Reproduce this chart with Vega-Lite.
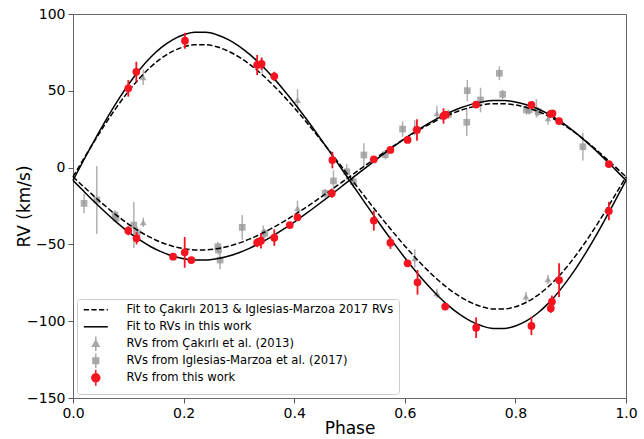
{
  "$schema": "https://vega.github.io/schema/vega-lite/v6.json",
  "width": 553,
  "height": 384,
  "autosize": "none",
  "padding": {"left": 73, "top": 14, "right": 18, "bottom": 41},
  "background": "white",
  "config": {
    "font": "DejaVu Sans",
    "view": {"stroke": "#666666", "strokeWidth": 1},
    "axis": {"grid": false, "domain": false, "labelFlush": false, "tickColor": "#555555", "tickSize": 5, "labelColor": "black", "titleColor": "black", "labelFontSize": 14, "titleFontSize": 17, "titleFontWeight": "normal", "labelFont": "DejaVu Sans", "titleFont": "DejaVu Sans"}
  },
  "datasets": {
    "solid": [
      {"p":0,"v":-8.3,"c":"S1"},{"p":0.02,"v":5.26,"c":"S1"},{"p":0.04,"v":18.52,"c":"S1"},{"p":0.06,"v":31.23,"c":"S1"},{"p":0.08,"v":43.12,"c":"S1"},{"p":0.1,"v":53.93,"c":"S1"},{"p":0.12,"v":63.49,"c":"S1"},{"p":0.14,"v":71.64,"c":"S1"},{"p":0.16,"v":78.22,"c":"S1"},{"p":0.18,"v":83.18,"c":"S1"},{"p":0.2,"v":86.47,"c":"S1"},{"p":0.22,"v":88.09,"c":"S1"},{"p":0.24,"v":88.08,"c":"S1"},{"p":0.26,"v":86.53,"c":"S1"},{"p":0.28,"v":83.51,"c":"S1"},{"p":0.3,"v":79.16,"c":"S1"},{"p":0.32,"v":73.58,"c":"S1"},{"p":0.34,"v":66.95,"c":"S1"},{"p":0.36,"v":59.39,"c":"S1"},{"p":0.38,"v":51.06,"c":"S1"},{"p":0.4,"v":42.09,"c":"S1"},{"p":0.42,"v":32.6,"c":"S1"},{"p":0.44,"v":22.7,"c":"S1"},{"p":0.46,"v":12.53,"c":"S1"},{"p":0.48,"v":2.15,"c":"S1"},{"p":0.5,"v":-8.3,"c":"S1"},{"p":0.52,"v":-18.75,"c":"S1"},{"p":0.54,"v":-29.13,"c":"S1"},{"p":0.56,"v":-39.3,"c":"S1"},{"p":0.58,"v":-49.2,"c":"S1"},{"p":0.6,"v":-58.69,"c":"S1"},{"p":0.62,"v":-67.66,"c":"S1"},{"p":0.64,"v":-75.99,"c":"S1"},{"p":0.66,"v":-83.55,"c":"S1"},{"p":0.68,"v":-90.18,"c":"S1"},{"p":0.7,"v":-95.76,"c":"S1"},{"p":0.72,"v":-100.11,"c":"S1"},{"p":0.74,"v":-103.13,"c":"S1"},{"p":0.76,"v":-104.68,"c":"S1"},{"p":0.78,"v":-104.69,"c":"S1"},{"p":0.8,"v":-103.07,"c":"S1"},{"p":0.82,"v":-99.78,"c":"S1"},{"p":0.84,"v":-94.82,"c":"S1"},{"p":0.86,"v":-88.24,"c":"S1"},{"p":0.88,"v":-80.09,"c":"S1"},{"p":0.9,"v":-70.53,"c":"S1"},{"p":0.92,"v":-59.72,"c":"S1"},{"p":0.94,"v":-47.83,"c":"S1"},{"p":0.96,"v":-35.12,"c":"S1"},{"p":0.98,"v":-21.86,"c":"S1"},{"p":1,"v":-8.3,"c":"S1"},
      {"p":0,"v":-8.3,"c":"S2"},{"p":0.02,"v":-15.6,"c":"S2"},{"p":0.04,"v":-22.75,"c":"S2"},{"p":0.06,"v":-29.59,"c":"S2"},{"p":0.08,"v":-35.99,"c":"S2"},{"p":0.1,"v":-41.82,"c":"S2"},{"p":0.12,"v":-46.97,"c":"S2"},{"p":0.14,"v":-51.36,"c":"S2"},{"p":0.16,"v":-54.9,"c":"S2"},{"p":0.18,"v":-57.57,"c":"S2"},{"p":0.2,"v":-59.35,"c":"S2"},{"p":0.22,"v":-60.22,"c":"S2"},{"p":0.24,"v":-60.21,"c":"S2"},{"p":0.26,"v":-59.38,"c":"S2"},{"p":0.28,"v":-57.75,"c":"S2"},{"p":0.3,"v":-55.41,"c":"S2"},{"p":0.32,"v":-52.4,"c":"S2"},{"p":0.34,"v":-48.83,"c":"S2"},{"p":0.36,"v":-44.76,"c":"S2"},{"p":0.38,"v":-40.27,"c":"S2"},{"p":0.4,"v":-35.44,"c":"S2"},{"p":0.42,"v":-30.33,"c":"S2"},{"p":0.44,"v":-25.0,"c":"S2"},{"p":0.46,"v":-19.52,"c":"S2"},{"p":0.48,"v":-13.93,"c":"S2"},{"p":0.5,"v":-8.3,"c":"S2"},{"p":0.52,"v":-2.67,"c":"S2"},{"p":0.54,"v":2.92,"c":"S2"},{"p":0.56,"v":8.4,"c":"S2"},{"p":0.58,"v":13.73,"c":"S2"},{"p":0.6,"v":18.84,"c":"S2"},{"p":0.62,"v":23.67,"c":"S2"},{"p":0.64,"v":28.16,"c":"S2"},{"p":0.66,"v":32.23,"c":"S2"},{"p":0.68,"v":35.8,"c":"S2"},{"p":0.7,"v":38.81,"c":"S2"},{"p":0.72,"v":41.15,"c":"S2"},{"p":0.74,"v":42.78,"c":"S2"},{"p":0.76,"v":43.61,"c":"S2"},{"p":0.78,"v":43.62,"c":"S2"},{"p":0.8,"v":42.75,"c":"S2"},{"p":0.82,"v":40.97,"c":"S2"},{"p":0.84,"v":38.3,"c":"S2"},{"p":0.86,"v":34.76,"c":"S2"},{"p":0.88,"v":30.37,"c":"S2"},{"p":0.9,"v":25.22,"c":"S2"},{"p":0.92,"v":19.39,"c":"S2"},{"p":0.94,"v":12.99,"c":"S2"},{"p":0.96,"v":6.15,"c":"S2"},{"p":0.98,"v":-1.0,"c":"S2"},{"p":1,"v":-8.3,"c":"S2"}
    ],
    "dashed": [
      {"p":0,"v":-6,"c":"D1"},{"p":0.02,"v":6.1,"c":"D1"},{"p":0.04,"v":17.94,"c":"D1"},{"p":0.06,"v":29.28,"c":"D1"},{"p":0.08,"v":39.89,"c":"D1"},{"p":0.1,"v":49.54,"c":"D1"},{"p":0.12,"v":58.07,"c":"D1"},{"p":0.14,"v":65.34,"c":"D1"},{"p":0.16,"v":71.22,"c":"D1"},{"p":0.18,"v":75.64,"c":"D1"},{"p":0.2,"v":78.59,"c":"D1"},{"p":0.22,"v":80.03,"c":"D1"},{"p":0.24,"v":80.02,"c":"D1"},{"p":0.26,"v":78.64,"c":"D1"},{"p":0.28,"v":75.94,"c":"D1"},{"p":0.3,"v":72.05,"c":"D1"},{"p":0.32,"v":67.08,"c":"D1"},{"p":0.34,"v":61.16,"c":"D1"},{"p":0.36,"v":54.41,"c":"D1"},{"p":0.38,"v":46.98,"c":"D1"},{"p":0.4,"v":38.97,"c":"D1"},{"p":0.42,"v":30.5,"c":"D1"},{"p":0.44,"v":21.67,"c":"D1"},{"p":0.46,"v":12.59,"c":"D1"},{"p":0.48,"v":3.33,"c":"D1"},{"p":0.5,"v":-6,"c":"D1"},{"p":0.52,"v":-15.33,"c":"D1"},{"p":0.54,"v":-24.59,"c":"D1"},{"p":0.56,"v":-33.67,"c":"D1"},{"p":0.58,"v":-42.5,"c":"D1"},{"p":0.6,"v":-50.97,"c":"D1"},{"p":0.62,"v":-58.98,"c":"D1"},{"p":0.64,"v":-66.41,"c":"D1"},{"p":0.66,"v":-73.16,"c":"D1"},{"p":0.68,"v":-79.08,"c":"D1"},{"p":0.7,"v":-84.05,"c":"D1"},{"p":0.72,"v":-87.94,"c":"D1"},{"p":0.74,"v":-90.64,"c":"D1"},{"p":0.76,"v":-92.02,"c":"D1"},{"p":0.78,"v":-92.03,"c":"D1"},{"p":0.8,"v":-90.59,"c":"D1"},{"p":0.82,"v":-87.64,"c":"D1"},{"p":0.84,"v":-83.22,"c":"D1"},{"p":0.86,"v":-77.34,"c":"D1"},{"p":0.88,"v":-70.07,"c":"D1"},{"p":0.9,"v":-61.54,"c":"D1"},{"p":0.92,"v":-51.89,"c":"D1"},{"p":0.94,"v":-41.28,"c":"D1"},{"p":0.96,"v":-29.94,"c":"D1"},{"p":0.98,"v":-18.1,"c":"D1"},{"p":1,"v":-6,"c":"D1"},
      {"p":0,"v":-6,"c":"D2"},{"p":0.02,"v":-12.69,"c":"D2"},{"p":0.04,"v":-19.24,"c":"D2"},{"p":0.06,"v":-25.52,"c":"D2"},{"p":0.08,"v":-31.39,"c":"D2"},{"p":0.1,"v":-36.73,"c":"D2"},{"p":0.12,"v":-41.45,"c":"D2"},{"p":0.14,"v":-45.47,"c":"D2"},{"p":0.16,"v":-48.72,"c":"D2"},{"p":0.18,"v":-51.17,"c":"D2"},{"p":0.2,"v":-52.79,"c":"D2"},{"p":0.22,"v":-53.59,"c":"D2"},{"p":0.24,"v":-53.59,"c":"D2"},{"p":0.26,"v":-52.82,"c":"D2"},{"p":0.28,"v":-51.33,"c":"D2"},{"p":0.3,"v":-49.18,"c":"D2"},{"p":0.32,"v":-46.43,"c":"D2"},{"p":0.34,"v":-43.15,"c":"D2"},{"p":0.36,"v":-39.42,"c":"D2"},{"p":0.38,"v":-35.31,"c":"D2"},{"p":0.4,"v":-30.88,"c":"D2"},{"p":0.42,"v":-26.19,"c":"D2"},{"p":0.44,"v":-21.31,"c":"D2"},{"p":0.46,"v":-16.28,"c":"D2"},{"p":0.48,"v":-11.16,"c":"D2"},{"p":0.5,"v":-6,"c":"D2"},{"p":0.52,"v":-0.84,"c":"D2"},{"p":0.54,"v":4.28,"c":"D2"},{"p":0.56,"v":9.31,"c":"D2"},{"p":0.58,"v":14.19,"c":"D2"},{"p":0.6,"v":18.88,"c":"D2"},{"p":0.62,"v":23.31,"c":"D2"},{"p":0.64,"v":27.42,"c":"D2"},{"p":0.66,"v":31.15,"c":"D2"},{"p":0.68,"v":34.43,"c":"D2"},{"p":0.7,"v":37.18,"c":"D2"},{"p":0.72,"v":39.33,"c":"D2"},{"p":0.74,"v":40.82,"c":"D2"},{"p":0.76,"v":41.59,"c":"D2"},{"p":0.78,"v":41.59,"c":"D2"},{"p":0.8,"v":40.79,"c":"D2"},{"p":0.82,"v":39.17,"c":"D2"},{"p":0.84,"v":36.72,"c":"D2"},{"p":0.86,"v":33.47,"c":"D2"},{"p":0.88,"v":29.45,"c":"D2"},{"p":0.9,"v":24.73,"c":"D2"},{"p":0.92,"v":19.39,"c":"D2"},{"p":0.94,"v":13.52,"c":"D2"},{"p":0.96,"v":7.24,"c":"D2"},{"p":0.98,"v":0.69,"c":"D2"},{"p":1,"v":-6,"c":"D2"}
    ],
    "cak": [
      {"p":0.127,"v":58.8,"lo":53.8,"hi":63.8},{"p":0.342,"v":66.5,"lo":61.5,"hi":71.5},{"p":0.406,"v":44.0,"lo":37.0,"hi":51.0},{"p":0.618,"v":26.0,"lo":21.0,"hi":31.0},{"p":0.658,"v":35.3,"lo":30.3,"hi":40.3},{"p":0.838,"v":38.6,"lo":32.6,"hi":44.6},{"p":0.859,"v":32.1,"lo":28.1,"hi":36.1},
      {"p":0.127,"v":-35.6,"lo":-38.6,"hi":-32.6},{"p":0.344,"v":-41.7,"lo":-45.7,"hi":-37.7},{"p":0.406,"v":-26.5,"lo":-31.5,"hi":-21.5},{"p":0.618,"v":-59.1,"lo":-65.1,"hi":-53.1},{"p":0.658,"v":-81.8,"lo":-84.8,"hi":-78.8},{"p":0.819,"v":-84.0,"lo":-87.0,"hi":-81.0},{"p":0.859,"v":-72.7,"lo":-75.7,"hi":-69.7}
    ],
    "igl": [
      {"p":0.02,"v":-23.3,"lo":-29.8,"hi":-16.8},{"p":0.043,"v":-21.1,"lo":-43.1,"hi":0.9},{"p":0.076,"v":-30.8,"lo":-33.8,"hi":-27.8},{"p":0.078,"v":-33.0,"lo":-36.0,"hi":-30.0},{"p":0.11,"v":-37.4,"lo":-52.4,"hi":-22.4},{"p":0.116,"v":-42.4,"lo":-46.4,"hi":-38.4},{"p":0.262,"v":-51.5,"lo":-54.5,"hi":-48.5},{"p":0.263,"v":-53.6,"lo":-56.6,"hi":-50.6},{"p":0.266,"v":-60.2,"lo":-66.2,"hi":-54.2},{"p":0.306,"v":-38.9,"lo":-46.9,"hi":-30.9},{"p":0.347,"v":-42.8,"lo":-45.8,"hi":-39.8},{"p":0.456,"v":-16.7,"lo":-19.7,"hi":-13.7},{"p":0.471,"v":-8.7,"lo":-15.7,"hi":-1.7},{"p":0.495,"v":-2.7,"lo":-7.7,"hi":2.3},{"p":0.507,"v":-9.2,"lo":-13.2,"hi":-5.2},{"p":0.526,"v":8.2,"lo":0.6,"hi":15.8},{"p":0.565,"v":8.4,"lo":5.4,"hi":11.4},{"p":0.596,"v":25.1,"lo":20.1,"hi":30.1},{"p":0.679,"v":34.7,"lo":31.7,"hi":37.7},{"p":0.713,"v":50.1,"lo":43.1,"hi":57.1},{"p":0.712,"v":29.5,"lo":20.5,"hi":38.5},{"p":0.737,"v":44.0,"lo":36.0,"hi":52.0},{"p":0.771,"v":61.4,"lo":56.9,"hi":65.9},{"p":0.777,"v":47.7,"lo":44.7,"hi":50.7},{"p":0.82,"v":37.5,"lo":34.5,"hi":40.5},{"p":0.825,"v":37.5,"lo":34.5,"hi":40.5},{"p":0.841,"v":36.4,"lo":33.4,"hi":39.4},{"p":0.922,"v":13.6,"lo":4.6,"hi":22.6}
    ],
    "work": [
      {"p":0.1,"v":51.6,"lo":46.2,"hi":57.0},{"p":0.1145,"v":62.4,"lo":55.9,"hi":68.9},{"p":0.2025,"v":82.6,"lo":77.4,"hi":87.8},{"p":0.333,"v":66.8,"lo":60.3,"hi":73.3},{"p":0.341,"v":67.6,"lo":63.6,"hi":71.6},{"p":0.364,"v":59.4,"lo":56.4,"hi":62.4},{"p":0.469,"v":4.9,"lo":-0.5,"hi":10.3},
      {"p":0.1,"v":-41.1,"lo":-44.1,"hi":-38.1},{"p":0.115,"v":-46.0,"lo":-50.0,"hi":-42.0},{"p":0.181,"v":-58.0,"lo":-60.0,"hi":-56.0},{"p":0.202,"v":-55.2,"lo":-65.2,"hi":-45.2},{"p":0.214,"v":-60.2,"lo":-62.2,"hi":-58.2},{"p":0.333,"v":-48.8,"lo":-51.8,"hi":-45.8},{"p":0.34,"v":-47.6,"lo":-52.6,"hi":-42.6},{"p":0.364,"v":-45.6,"lo":-51.0,"hi":-40.2},{"p":0.392,"v":-37.4,"lo":-39.4,"hi":-35.4},{"p":0.406,"v":-32.4,"lo":-34.4,"hi":-30.4},{"p":0.468,"v":-16.7,"lo":-19.7,"hi":-13.7},
      {"p":0.544,"v":5.4,"lo":3.4,"hi":7.4},{"p":0.574,"v":11.5,"lo":9.5,"hi":13.5},{"p":0.605,"v":18.0,"lo":16.0,"hi":20.0},{"p":0.622,"v":24.5,"lo":17.5,"hi":31.5},{"p":0.67,"v":33.6,"lo":28.6,"hi":38.6},{"p":0.674,"v":34.5,"lo":32.5,"hi":36.5},{"p":0.729,"v":41.0,"lo":39.0,"hi":43.0},{"p":0.829,"v":40.8,"lo":38.8,"hi":42.8},{"p":0.864,"v":34.9,"lo":32.9,"hi":36.9},{"p":0.867,"v":35.3,"lo":33.3,"hi":37.3},{"p":0.879,"v":30.3,"lo":28.3,"hi":32.3},{"p":0.969,"v":2.3,"lo":0.3,"hi":4.3},
      {"p":0.544,"v":-34.5,"lo":-41.0,"hi":-28.0},{"p":0.574,"v":-48.9,"lo":-52.9,"hi":-44.9},{"p":0.605,"v":-62.3,"lo":-64.3,"hi":-60.3},{"p":0.623,"v":-74.7,"lo":-82.7,"hi":-66.7},{"p":0.673,"v":-90.5,"lo":-92.5,"hi":-88.5},{"p":0.729,"v":-104.2,"lo":-110.9,"hi":-97.5},{"p":0.829,"v":-103.1,"lo":-109.1,"hi":-97.1},{"p":0.864,"v":-91.6,"lo":-94.6,"hi":-88.6},{"p":0.866,"v":-87.3,"lo":-91.3,"hi":-83.3},{"p":0.879,"v":-73.2,"lo":-84.2,"hi":-62.2},{"p":0.969,"v":-28.3,"lo":-34.3,"hi":-22.3}
    ],
    "leg": [
      {"s":"Fit to Çakırlı 2013 & Iglesias-Marzoa 2017 RVs"},
      {"s":"Fit to RVs in this work"},
      {"s":"RVs from Çakırlı et al. (2013)"},
      {"s":"RVs from Iglesias-Marzoa et al. (2017)"},
      {"s":"RVs from this work"}
    ]
  },
  "encoding": {
    "x": {"field": "p", "type": "quantitative", "scale": {"domain": [0, 1], "nice": false, "zero": false, "padding": 0}, "axis": {"title": "Phase", "values": [0, 0.2, 0.4, 0.6, 0.8, 1.0], "format": ".1f", "labelPadding": 3, "titlePadding": 0}},
    "y": {"field": "v", "type": "quantitative", "scale": {"domain": [-150, 100], "nice": false, "zero": false, "padding": 0}, "axis": {"title": "RV (km/s)", "values": [-150, -100, -50, 0, 50, 100], "labelPadding": 3, "titleX": -44, "titleY": 192, "titleBaseline": "alphabetic", "titleAngle": -90, "titleAlign": "center"}}
  },
  "layer": [
    {"data": {"name": "cak"}, "mark": {"type": "rule", "color": "#b0b0b0", "strokeWidth": 1.5}, "encoding": {"y": {"field": "lo", "type": "quantitative"}, "y2": {"field": "hi"}}},
    {"data": {"name": "igl"}, "mark": {"type": "rule", "color": "#b0b0b0", "strokeWidth": 1.5}, "encoding": {"y": {"field": "lo", "type": "quantitative"}, "y2": {"field": "hi"}}},
    {"data": {"name": "cak"}, "mark": {"type": "point", "shape": "triangle-up", "filled": true, "color": "#999999", "opacity": 0.8, "size": 45}},
    {"data": {"name": "igl"}, "mark": {"type": "point", "shape": "square", "filled": true, "color": "#999999", "opacity": 0.8, "size": 45}},
    {"data": {"name": "dashed"}, "mark": {"type": "line", "color": "black", "strokeWidth": 1.5, "strokeDash": [5.5, 2.4], "interpolate": "monotone"}, "encoding": {"detail": {"field": "c"}}},
    {"data": {"name": "solid"}, "mark": {"type": "line", "color": "black", "strokeWidth": 1.5, "interpolate": "monotone"}, "encoding": {"detail": {"field": "c"}}},
    {"data": {"name": "work"}, "mark": {"type": "rule", "color": "#f5141f", "strokeWidth": 1.8}, "encoding": {"y": {"field": "lo", "type": "quantitative"}, "y2": {"field": "hi"}}},
    {"data": {"name": "work"}, "mark": {"type": "point", "shape": "circle", "filled": true, "color": "#f5141f", "opacity": 1, "size": 60}},
    {"data": {"name": "leg"}, "mark": {"type": "point", "filled": true, "opacity": 0},
      "encoding": {
        "x": {"value": 0}, "y": {"value": 0},
        "color": {"field": "s", "type": "nominal", "scale": {"domain": ["Fit to Çakırlı 2013 & Iglesias-Marzoa 2017 RVs", "Fit to RVs in this work", "RVs from Çakırlı et al. (2013)", "RVs from Iglesias-Marzoa et al. (2017)", "RVs from this work"], "range": ["black", "black", "#a8a8a8", "#a8a8a8", "#f5141f"]},
          "legend": {"title": null, "orient": "bottom-left", "offset": 4, "padding": 5, "fillColor": "white", "strokeColor": "#cccccc", "cornerRadius": 3, "labelFont": "DejaVu Sans", "labelFontSize": 11.6, "labelColor": "black", "labelLimit": 400, "symbolSize": 64, "symbolStrokeWidth": 1.5, "symbolOffset": 8, "labelOffset": 25, "rowPadding": -6, "gridAlign": "all", "symbolOpacity": 1,
            "encode": {"symbols": {"update": {"stroke": {"scale": "color", "field": "value"}, "opacity": {"value": 1}, "strokeWidth": {"value": 1.5}}}}}},
        "shape": {"field": "s", "type": "nominal", "scale": {"domain": ["Fit to Çakırlı 2013 & Iglesias-Marzoa 2017 RVs", "Fit to RVs in this work", "RVs from Çakırlı et al. (2013)", "RVs from Iglesias-Marzoa et al. (2017)", "RVs from this work"], "range": ["M-3,0H-1.7M-1.1,0H0.2M0.8,0H2.1M2.7,0H3", "M-3,0H3", "M0,-1.8V1.8M-0.8,0.6L0,-0.8L0.8,0.6Z", "M0,-1.8V1.8M-0.7,-0.7H0.7V0.7H-0.7Z", "M0,-2V2M-1,0A1,1,0,1,0,1,0A1,1,0,1,0,-1,0Z"]}}
      }
    }
  ]
}
